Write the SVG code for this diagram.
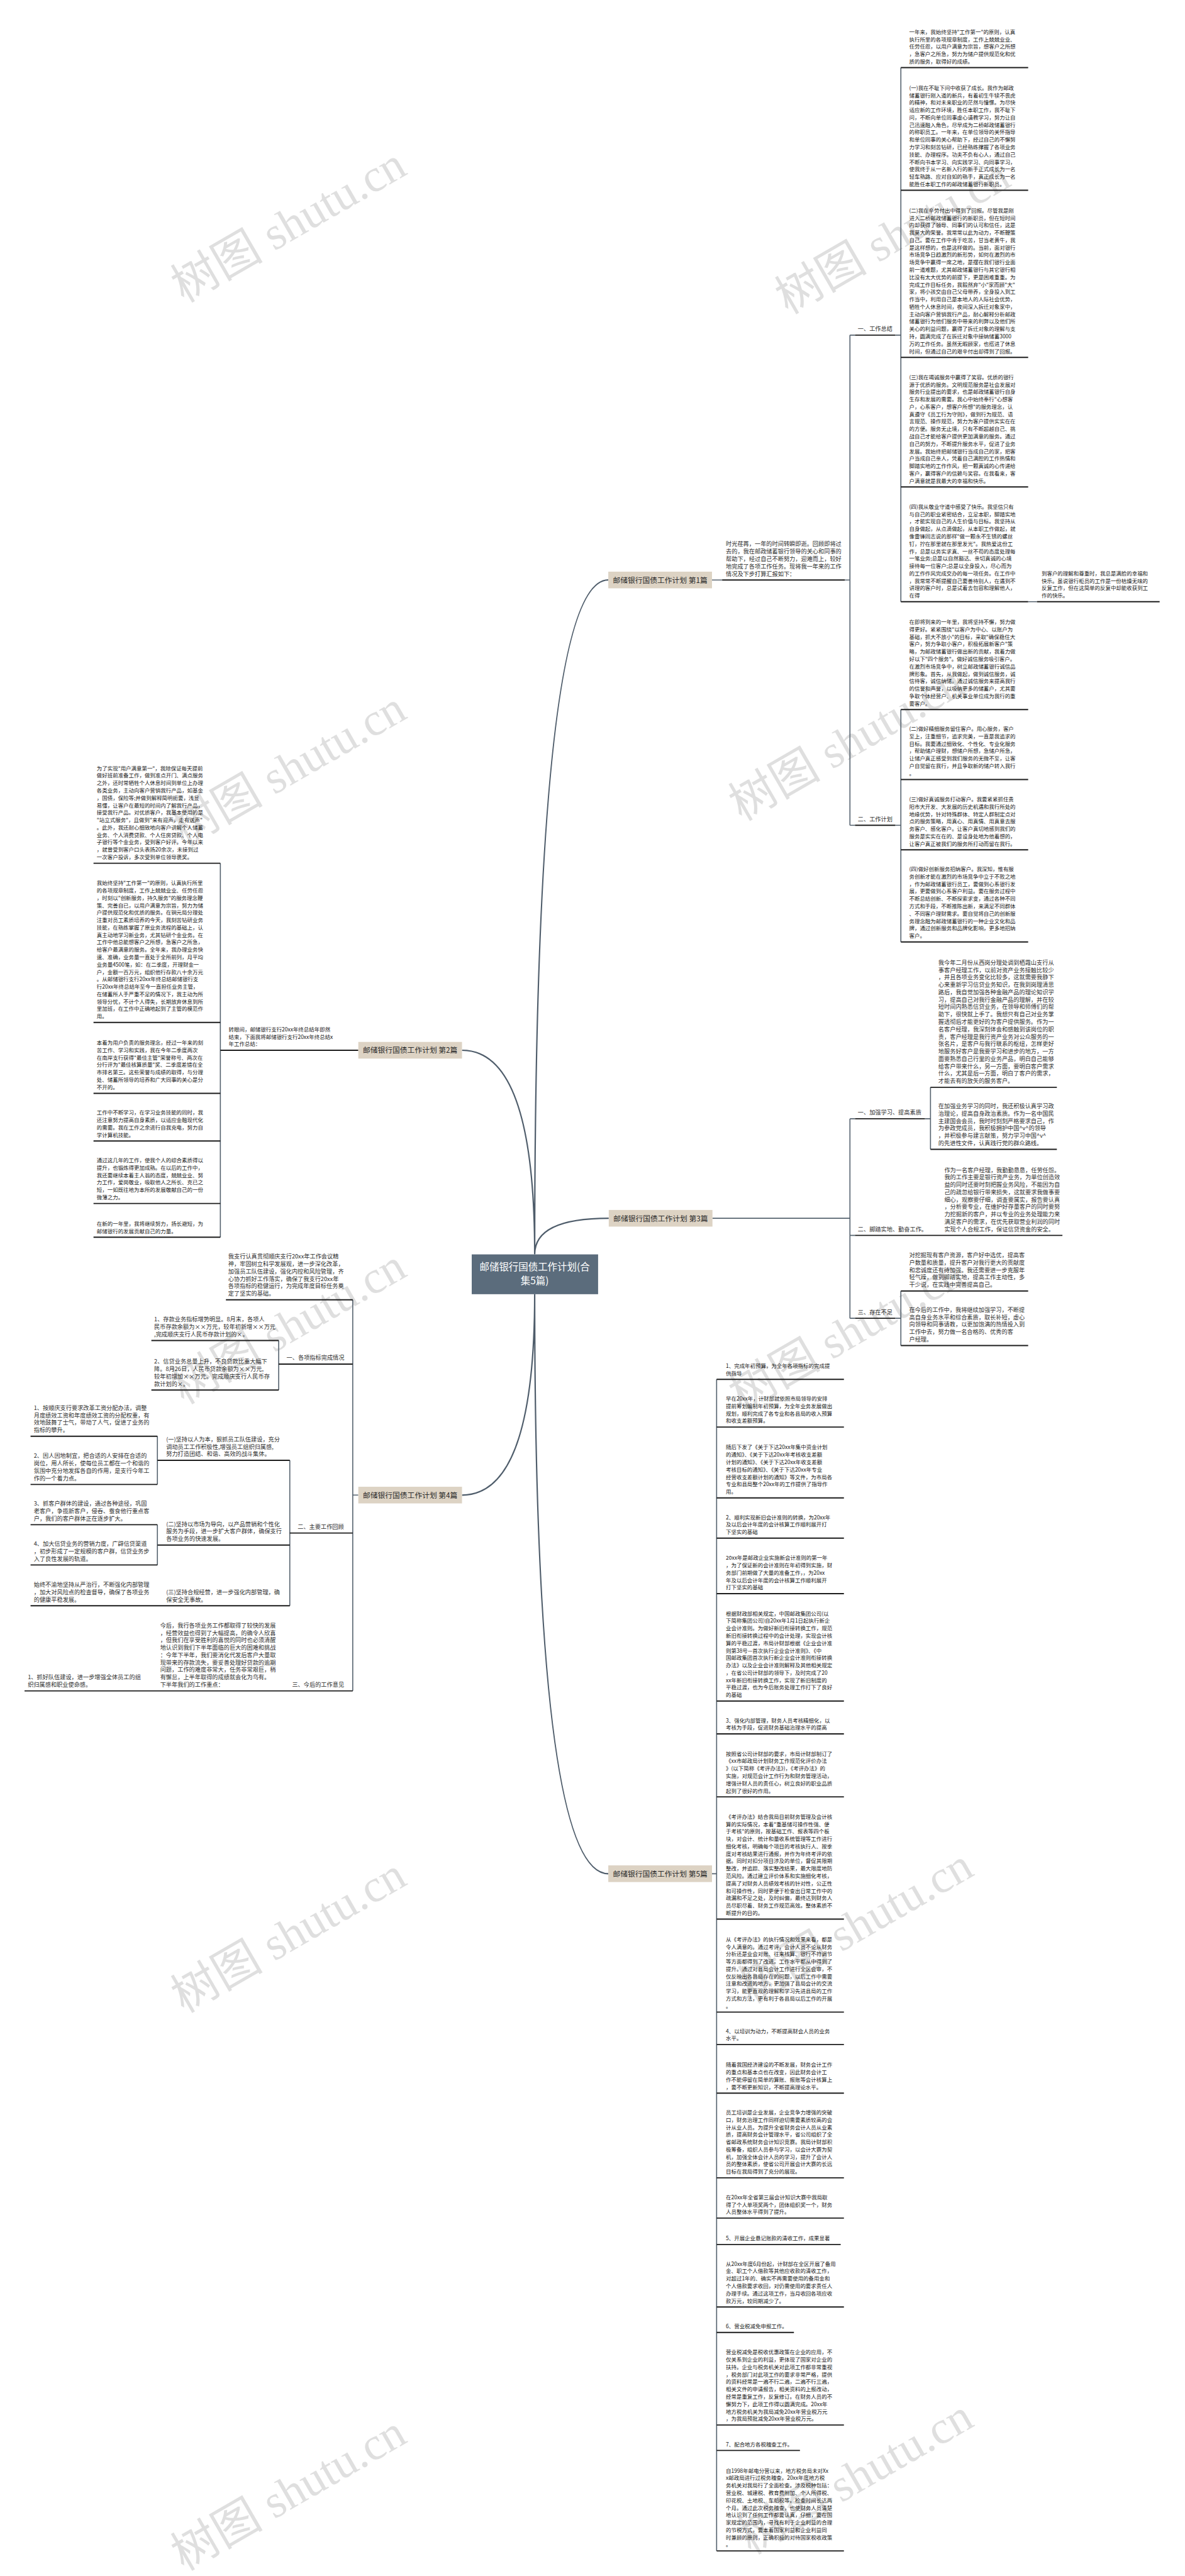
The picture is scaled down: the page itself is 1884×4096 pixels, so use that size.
<svg xmlns="http://www.w3.org/2000/svg" width="1884" height="4096" viewBox="0 0 1884 4096">
<style>
.w{font-family:"Liberation Serif","Noto Sans CJK SC",serif;font-size:100px;fill:#c9c9c9;fill-opacity:.6}
.t{font-family:"Noto Sans CJK SC","Noto Sans CJK JP",sans-serif;font-size:11.5px;fill:#151515}
.y{font-family:"Noto Sans CJK SC","Noto Sans CJK JP",sans-serif;font-size:12.5px;fill:#2e2e2e}
.ul{stroke:#1c1c1c;stroke-width:2.6;fill:none}
.cn{stroke:#56636f;stroke-width:2.2;fill:none}
.br{stroke:#4f5d6b;stroke-width:3;fill:none}
.lb rect{fill:#ddd3c4}
.lb text{font-family:"Noto Sans CJK SC",sans-serif;font-size:16px;fill:#2b2b2b}
.root rect{fill:#5b6c7c}
.root text{font-family:"Noto Sans CJK SC",sans-serif;font-size:21px;fill:#fff;text-anchor:middle}
</style>
<rect width="1884" height="4096" fill="#fff"/>
<g transform="scale(0.736)">
<g id="watermarks">
<text class="w" transform="translate(640 515) rotate(-30)" text-anchor="middle">树图 shutu.cn</text>
<text class="w" transform="translate(1945 540) rotate(-30)" text-anchor="middle">树图 shutu.cn</text>
<text class="w" transform="translate(640 1690) rotate(-30)" text-anchor="middle">树图 shutu.cn</text>
<text class="w" transform="translate(1845 1635) rotate(-30)" text-anchor="middle">树图 shutu.cn</text>
<text class="w" transform="translate(640 2895) rotate(-30)" text-anchor="middle">树图 shutu.cn</text>
<text class="w" transform="translate(1845 2910) rotate(-30)" text-anchor="middle">树图 shutu.cn</text>
<text class="w" transform="translate(640 4210) rotate(-30)" text-anchor="middle">树图 shutu.cn</text>
<text class="w" transform="translate(1865 4190) rotate(-30)" text-anchor="middle">树图 shutu.cn</text>
<text class="w" transform="translate(640 5415) rotate(-30)" text-anchor="middle">树图 shutu.cn</text>
<text class="w" transform="translate(1865 5380) rotate(-30)" text-anchor="middle">树图 shutu.cn</text>
</g>
<g id="connectors">
<path class="br" d="M1155 2710 Q1155 1253 1314 1253 M1155 2710 Q1155 2269 998 2269 M1155 2710 Q1155 2632 1315 2632 M1155 2796 Q1155 3230 998 3230 M1155 2796 Q1155 4048 1314 4048"/>
<path class="cn" d="M1538 1253 H1560 M1825 1253 H1836 M1836 724 V1783 M1836 724 H1847 M1836 1783 H1847 M1934 724 H1946 M1946 146 V1300 M1934 1783 H1946 M1946 1533 V2035 M2221 1300 H2240"/>
<path class="cn" d="M1539 2632 H1836 M1836 2417 V2848 M1836 2417 H1847 M1836 2669 H1847 M1836 2848 H1847 M1998 2417 H2010 M2010 2349 V2483 M1934 2848 H1946 M1946 2789 V2907"/>
<path class="cn" d="M476 1865 V2673 M762 2808 V3653 M774 3230 H762 M602 2896 V3003 M626 3155 V3469 M340 3103 V3207 M340 3294 V3381"/>
<path class="cn" d="M1538 4048 H1548 M1548 2980 V5511"/>
<path class="ul" d="M1560 1253 H1825 M1847 724 H1934 M1847 1783 H1934 M1946 146 H2221 M1946 411 H2221 M1946 772 H2221 M1946 1052 H2221 M1946 1300 H2221 M2240 1300 H2505 M1946 1533 H2221 M1946 1684 H2221 M1946 1836 H2221 M1946 2035 H2221"/>
<path class="ul" d="M1847 2417 H1998 M2010 2349 H2283 M2010 2483 H2283 M1847 2669 H2295 M1847 2848 H1934 M1946 2789 H2221 M1946 2907 H2221"/>
<path class="ul" d="M476 2269 H774 M202 1865 H476 M202 2209 H476 M202 2362 H476 M202 2465 H476 M202 2600 H476 M202 2673 H476"/>
<path class="ul" d="M488 2808 H762 M602 2947 H762 M327 2896 H602 M327 3003 H602 M626 3312 H762 M340 3155 H626 M66 3103 H340 M66 3207 H340 M340 3338 H626 M66 3294 H340 M66 3381 H340 M66 3469 H626 M53 3653 H762"/>
<path class="ul" d="M1548 2980 H1823 M1548 3083 H1823 M1548 3236 H1823 M1548 3323 H1823 M1548 3443 H1823 M1548 3675 H1823 M1548 3746 H1823 M1548 3882 H1823 M1548 4146 H1823 M1548 4347 H1823 M1548 4417 H1823 M1548 4522 H1823 M1548 4705 H1823 M1548 4792 H1823 M1548 4849 H1816 M1548 4984 H1823 M1548 5039 H1715 M1548 5239 H1823 M1548 5294 H1728 M1548 5511 H1823"/>
</g>
<g id="root" class="root"><rect x="1019" y="2710" width="273" height="86"/><text x="1155" y="2745">邮储银行国债工作计划(合</text><text x="1155" y="2775">集5篇)</text></g>
<g id="b1" class="lb"><rect x="1314" y="1235" width="224" height="36"/><text x="1324" y="1259">邮储银行国债工作计划 第1篇</text></g>
<g id="b2" class="lb"><rect x="774" y="2251" width="224" height="36"/><text x="784" y="2275">邮储银行国债工作计划 第2篇</text></g>
<g id="b3" class="lb"><rect x="1315" y="2614" width="224" height="36"/><text x="1325" y="2638">邮储银行国债工作计划 第3篇</text></g>
<g id="b4" class="lb"><rect x="774" y="3212" width="224" height="36"/><text x="784" y="3236">邮储银行国债工作计划 第4篇</text></g>
<g id="b5" class="lb"><rect x="1314" y="4030" width="224" height="36"/><text x="1324" y="4054">邮储银行国债工作计划 第5篇</text></g>

<g id="b1-intro"><text class="y" x="1568" y="1180"><tspan x="1568">时光荏苒，一年的时间转瞬即逝。回顾即将过</tspan><tspan x="1568" dy="16">去的，我在邮政储蓄银行领导的关心和同事的</tspan><tspan x="1568" dy="16">帮助下，经过自己不断努力，迎难而上，较好</tspan><tspan x="1568" dy="16">地完成了各项工作任务。现将我一年来的工作</tspan><tspan x="1568" dy="16">情况及下步打算汇报如下：</tspan></text></g>
<g id="b1-s1"><text class="y" x="1853" y="715">一、工作总结</text></g>
<g id="b1-s2"><text class="y" x="1853" y="1774">二、工作计划</text></g>
<g id="b1-n0"><text class="t" x="1964" y="73"><tspan x="1964">一年来，我始终坚持"工作第一"的原则，认真</tspan><tspan x="1964" dy="16">执行所里的各项规章制度，工作上兢兢业业、</tspan><tspan x="1964" dy="16">任劳任怨，以用户满意为宗旨，想客户之所想</tspan><tspan x="1964" dy="16">，急客户之所急，努力为储户提供规范化和优</tspan><tspan x="1964" dy="16">质的服务，取得好的成绩。</tspan></text></g>
<g id="b1-n1"><text class="t" x="1964" y="194"><tspan x="1964">(一)我在不耻下问中收获了成长。我作为邮政</tspan><tspan x="1964" dy="16">储蓄银行刚入道的新兵，有着初生牛犊不畏虎</tspan><tspan x="1964" dy="16">的精神，和对未来职业的茫然与憧憬。为尽快</tspan><tspan x="1964" dy="16">适应新的工作环境，胜任本职工作，我不耻下</tspan><tspan x="1964" dy="16">问，不断向单位同事虚心请教学习，努力让自</tspan><tspan x="1964" dy="16">己迅速融入角色，尽早成为二桥邮政储蓄银行</tspan><tspan x="1964" dy="16">的称职员工。一年来，在单位领导的关怀指导</tspan><tspan x="1964" dy="16">和单位同事的关心帮助下，经过自己的不懈努</tspan><tspan x="1964" dy="16">力学习和刻苦钻研，已经熟练撑握了各项业务</tspan><tspan x="1964" dy="16">技能、办理程序。功夫不负有心人，通过自己</tspan><tspan x="1964" dy="16">不断向书本学习、向实践学习、向同事学习，</tspan><tspan x="1964" dy="16">使我终于从一名新入行的新手正式成长为一名</tspan><tspan x="1964" dy="16">轻车熟路、应对自如的熟手，真正成长为一名</tspan><tspan x="1964" dy="16">能胜任本职工作的邮政储蓄银行新职员。</tspan></text></g>
<g id="b1-n2"><text class="t" x="1964" y="459"><tspan x="1964">(二)我在辛劳付出中得到了回报。尽管我是刚</tspan><tspan x="1964" dy="16">进入二桥邮政储蓄银行的新职员，但在短时间</tspan><tspan x="1964" dy="16">内却获得了领导、同事们的认可和信任，这是</tspan><tspan x="1964" dy="16">我莫大的荣誉。我常常以此为动力，不断鞭策</tspan><tspan x="1964" dy="16">自己。要在工作中肯于吃苦，甘当老黄牛，我</tspan><tspan x="1964" dy="16">是这样想的，也是这样做的。当前，面对银行</tspan><tspan x="1964" dy="16">市场竞争日趋激烈的新形势，如何在激烈的市</tspan><tspan x="1964" dy="16">场竞争中赢得一席之地，是摆在我们银行业面</tspan><tspan x="1964" dy="16">前一道难题，尤其邮政储蓄银行与其它银行相</tspan><tspan x="1964" dy="16">比没有太大优势的前提下，更是困难重重。为</tspan><tspan x="1964" dy="16">完成工作目标任务，我毅然弃"小"家而顾"大"</tspan><tspan x="1964" dy="16">家，将小孩交由自己父母带养，全身投入到工</tspan><tspan x="1964" dy="16">作当中，利用自己是本地人的人际社会优势，</tspan><tspan x="1964" dy="16">牺牲个人休息时间，夜间深入拆迁对象家中，</tspan><tspan x="1964" dy="16">主动向客户营销我行产品，耐心解释分析邮政</tspan><tspan x="1964" dy="16">储蓄银行为他们服务中带来的利弊以及他们所</tspan><tspan x="1964" dy="16">关心的利益问题，赢得了拆迁对象的理解与支</tspan><tspan x="1964" dy="16">持，圆满完成了在拆迁对象中接纳储蓄3000</tspan><tspan x="1964" dy="16">万的工作任务。虽然无暇顾家，也搭进了休息</tspan><tspan x="1964" dy="16">时间，但通过自己的艰辛付出却得到了回报。</tspan></text></g>
<g id="b1-n3"><text class="t" x="1964" y="819"><tspan x="1964">(三)我在竭诚服务中赢得了笑容。优质的银行</tspan><tspan x="1964" dy="16">源于优质的服务。文明规范服务是社会发展对</tspan><tspan x="1964" dy="16">服务行业提出的要求，也是邮政储蓄银行自身</tspan><tspan x="1964" dy="16">生存和发展的需要。我心中始终奉行"心想客</tspan><tspan x="1964" dy="16">户，心系客户，想客户所想"的服务理念，认</tspan><tspan x="1964" dy="16">真遵守《员工行为守则》，做到行为规范、语</tspan><tspan x="1964" dy="16">言规范、操作规范，努力为客户提供实实在在</tspan><tspan x="1964" dy="16">的方便。服务无止境，只有不断超越自己、挑</tspan><tspan x="1964" dy="16">战自己才能给客户提供更加满意的服务。通过</tspan><tspan x="1964" dy="16">自己的努力，不断提升服务水平，促进了业务</tspan><tspan x="1964" dy="16">发展。我始终把邮储银行当成自己的家，把客</tspan><tspan x="1964" dy="16">户当成自己亲人，凭着自己满腔的工作热情和</tspan><tspan x="1964" dy="16">脚踏实地的工作作风，把一颗真诚的心传递给</tspan><tspan x="1964" dy="16">客户，赢得客户的信赖与笑容。在我看来，客</tspan><tspan x="1964" dy="16">户满意就是我最大的幸福和快乐。</tspan></text></g>
<g id="b1-n4"><text class="t" x="1964" y="1099"><tspan x="1964">(四)我从敬业守道中感受了快乐。我坚信只有</tspan><tspan x="1964" dy="16">与自己的职业紧密结合，立足本职，脚踏实地</tspan><tspan x="1964" dy="16">，才能实现自己的人生价值与目标。我坚持从</tspan><tspan x="1964" dy="16">自身做起，从点滴做起，从本职工作做起，就</tspan><tspan x="1964" dy="16">像雷锋同志说的那样"做一颗永不生锈的螺丝</tspan><tspan x="1964" dy="16">钉，拧在那里就在那里发光"。我热爱这份工</tspan><tspan x="1964" dy="16">作，总是以务实求真、一丝不苟的态度处理每</tspan><tspan x="1964" dy="16">一笔业务;总是以自然豁达、亲切真诚的心境</tspan><tspan x="1964" dy="16">接待每一位客户;总是以全身投入，尽心而为</tspan><tspan x="1964" dy="16">的工作作风完成交办的每一项任务。在工作中</tspan><tspan x="1964" dy="16">，我常常不断提醒自己要善待别人，在遇到不</tspan><tspan x="1964" dy="16">讲理的客户时，总是试着去包容和理解他人，</tspan><tspan x="1964" dy="16">在得</tspan></text></g>
<g id="b1-n4a"><text class="t" x="2250" y="1243"><tspan x="2250">到客户的理解和尊重时，我总是满脸的幸福和</tspan><tspan x="2250" dy="16">快乐。虽说银行柜员的工作是一份枯燥无味的</tspan><tspan x="2250" dy="16">反复工作，但在这简单的反复中却能收获到工</tspan><tspan x="2250" dy="16">作的快乐。</tspan></text></g>
<g id="b1-n5"><text class="t" x="1964" y="1348"><tspan x="1964">在即将到来的一年里，我将坚持不懈，努力做</tspan><tspan x="1964" dy="16">得更好。紧紧围绕"以客户为中心、以账户为</tspan><tspan x="1964" dy="16">基础，抓大不放小"的目标，采取"确保稳住大</tspan><tspan x="1964" dy="16">客户，努力争取小客户，积极拓展新客户"策</tspan><tspan x="1964" dy="16">略，为邮政储蓄银行做出新的贡献，我着力做</tspan><tspan x="1964" dy="16">好以下"四个服务"。做好诚信服务吸引客户。</tspan><tspan x="1964" dy="16">在激烈市场竞争中，树立邮政储蓄银行诚信品</tspan><tspan x="1964" dy="16">牌形象。首先，从我做起，做到诚信服务，诚</tspan><tspan x="1964" dy="16">信待客，诚信纳储。通过诚信服务来提高我行</tspan><tspan x="1964" dy="16">的信誉和声誉，以吸纳更多的储蓄户，尤其要</tspan><tspan x="1964" dy="16">争取个体经营户、机关事业单位成为我行的重</tspan><tspan x="1964" dy="16">要客户。</tspan></text></g>
<g id="b1-n6"><text class="t" x="1964" y="1579"><tspan x="1964">(二)做好精细服务留住客户。用心服务，客户</tspan><tspan x="1964" dy="16">至上，注重细节，追求完美，一直是我追求的</tspan><tspan x="1964" dy="16">目标。我要通过细致化、个性化、专业化服务</tspan><tspan x="1964" dy="16">，帮助储户理财，想储户所想，急储户所急，</tspan><tspan x="1964" dy="16">让储户真正感受到我们服务的无微不至，让客</tspan><tspan x="1964" dy="16">户自觉留在我行，并且争取新的储户转入我行</tspan><tspan x="1964" dy="16">。</tspan></text></g>
<g id="b1-n7"><text class="t" x="1964" y="1731"><tspan x="1964">(三)做好真诚服务打动客户。我要紧紧抓住贵</tspan><tspan x="1964" dy="16">阳市大开发、大发展的历史机遇和我行所处的</tspan><tspan x="1964" dy="16">地缘优势，针对特殊群体、特定人群制定点对</tspan><tspan x="1964" dy="16">点的服务策略，用真心、用真情、用真意去服</tspan><tspan x="1964" dy="16">务客户、感化客户。让客户真切地感到我们的</tspan><tspan x="1964" dy="16">服务是实实在在的、是设身处地为他着想的，</tspan><tspan x="1964" dy="16">让客户真正被我们的服务所打动而留在我行。</tspan></text></g>
<g id="b1-n8"><text class="t" x="1964" y="1882"><tspan x="1964">(四)做好创新服务招纳客户。我深知，惟有服</tspan><tspan x="1964" dy="16">务创新才能在激烈的市场竞争中立于不败之地</tspan><tspan x="1964" dy="16">，作为邮政储蓄银行员工，要做到心系银行发</tspan><tspan x="1964" dy="16">展，更要做到心系客户利益。要在服务过程中</tspan><tspan x="1964" dy="16">不断总结创新、不断探索求变，通过各种不同</tspan><tspan x="1964" dy="16">方式和手段，不断推陈出新，来满足不同群体</tspan><tspan x="1964" dy="16">、不同客户理财需求。要自觉将自己的创新服</tspan><tspan x="1964" dy="16">务理念融为邮政储蓄银行的一种企业文化和品</tspan><tspan x="1964" dy="16">牌，通过创新服务和品牌化影响，更多地招纳</tspan><tspan x="1964" dy="16">客户。</tspan></text></g>

<g id="b3-s1"><text class="y" x="1853" y="2408">一、加强学习、提高素质</text></g>
<g id="b3-s2"><text class="y" x="1853" y="2660">二、脚踏实地、勤奋工作。</text></g>
<g id="b3-s3"><text class="y" x="1853" y="2839">三、存在不足</text></g>
<g id="b3-n1"><text class="y" x="2027" y="2084"><tspan x="2027">我今年二月份从西岗分理处调到栖霞山支行从</tspan><tspan x="2027" dy="16">事客户经理工作，以前对资产业务接触比较少</tspan><tspan x="2027" dy="16">，并且各项业务变化比较多，这就需要我静下</tspan><tspan x="2027" dy="16">心来重新学习信贷业务知识，在我到岗理清思</tspan><tspan x="2027" dy="16">路后，我自觉加强各种金融产品的理论知识学</tspan><tspan x="2027" dy="16">习，提高自己对我行金融产品的理解，并在较</tspan><tspan x="2027" dy="16">短时间内熟悉信贷业务，在领导和师傅们的帮</tspan><tspan x="2027" dy="16">助下，很快就上手了。我想只有自己对业务掌</tspan><tspan x="2027" dy="16">握透彻后才能更好的为客户提供服务。作为一</tspan><tspan x="2027" dy="16">名客户经理，我深刻体会和感触到该岗位的职</tspan><tspan x="2027" dy="16">责，客户经理是我行资产业务对公众服务的一</tspan><tspan x="2027" dy="16">张名片，是客户与我行联系的枢纽，怎样更好</tspan><tspan x="2027" dy="16">地服务好客户是我要学习和进步的地方，一方</tspan><tspan x="2027" dy="16">面要熟悉自己行里的业务产品，明白自己能够</tspan><tspan x="2027" dy="16">给客户带来什么，另一方面，要明白客户需求</tspan><tspan x="2027" dy="16">什么，尤其是后一方面，明白了客户的需求，</tspan><tspan x="2027" dy="16">才能去有的放矢的服务客户。</tspan></text></g>
<g id="b3-n2"><text class="y" x="2027" y="2394"><tspan x="2027">在加强业务学习的同时，我还积极认真学习政</tspan><tspan x="2027" dy="16">治理论，提高自身政治素质。作为一名中国民</tspan><tspan x="2027" dy="16">主建国会会员，我时时刻刻严格要求自己，作</tspan><tspan x="2027" dy="16">为参政党成员，我积极拥护中国^v^的领导</tspan><tspan x="2027" dy="16">，并积极参与建言献策，努力学习中国^v^</tspan><tspan x="2027" dy="16">的先进性文件，认真践行党的群众路线。</tspan></text></g>
<g id="b3-n3"><text class="y" x="2040" y="2532"><tspan x="2040">作为一名客户经理，我勤勤恳恳，任劳任怨。</tspan><tspan x="2040" dy="16">我的工作主要是银行资产业务，为单位创造效</tspan><tspan x="2040" dy="16">益的同时还要时刻把握业务风险，不能因为自</tspan><tspan x="2040" dy="16">己的疏忽给银行带来损失，这就要求我做事要</tspan><tspan x="2040" dy="16">细心，观察要仔细，调查要属实，报告要认真</tspan><tspan x="2040" dy="16">，分析要专业，在维护好存量客户的同时要努</tspan><tspan x="2040" dy="16">力挖掘新的客户，并以专业的业务处理能力来</tspan><tspan x="2040" dy="16">满足客户的需求，在优先获取营业利润的同时</tspan><tspan x="2040" dy="16">实现个人合规工作，保证信贷资金的安全。</tspan></text></g>
<g id="b3-n4"><text class="y" x="1964" y="2716"><tspan x="1964">对挖掘现有客户资源，客户好中选优，提高客</tspan><tspan x="1964" dy="16">户数量和质量，提升客户对我行更大的贡献度</tspan><tspan x="1964" dy="16">和忠诚度还有待加强。我还需要进一步克服年</tspan><tspan x="1964" dy="16">轻气躁，做到脚踏实地，提高工作主动性，多</tspan><tspan x="1964" dy="16">干少说，在实践中完善提高自己。</tspan></text></g>
<g id="b3-n5"><text class="y" x="1964" y="2834"><tspan x="1964">在今后的工作中，我将继续加强学习，不断提</tspan><tspan x="1964" dy="16">高自身业务水平和综合素质，取长补短，虚心</tspan><tspan x="1964" dy="16">向领导和同事请教，以更加饱满的热情投入到</tspan><tspan x="1964" dy="16">工作中去，努力做一名合格的、优秀的客</tspan><tspan x="1964" dy="16">户经理。</tspan></text></g>

<g id="b2-intro"><text class="t" x="494" y="2228"><tspan x="494">转眼间，邮储银行支行20xx年终总结年即然</tspan><tspan x="494" dy="16">结束，下面我将邮储银行支行20xx年终总结x</tspan><tspan x="494" dy="16">年工作总结：</tspan></text></g>
<g id="b2-n1"><text class="t" x="209" y="1664"><tspan x="209">为了实现"用户满意第一"，我除保证每天提前</tspan><tspan x="209" dy="16">做好班前准备工作，做到准点开门、满点服务</tspan><tspan x="209" dy="16">之外，还时常牺牲个人休息时间到单位上办理</tspan><tspan x="209" dy="16">各类业务，主动向客户营销我行产品，如基金</tspan><tspan x="209" dy="16">，国债，保险等;并做到解释简明扼要，浅显</tspan><tspan x="209" dy="16">易懂，让客户在最短的时间内了解我行产品，</tspan><tspan x="209" dy="16">接受我行产品。对优质客户，我基本使用的是</tspan><tspan x="209" dy="16">"站立式服务"，且做到"来有迎声，走有送声"</tspan><tspan x="209" dy="16">。此外，我还耐心细致地向客户讲解个人储蓄</tspan><tspan x="209" dy="16">业务、个人消费贷款、个人住房贷款、个人电</tspan><tspan x="209" dy="16">子银行等个金业务，受到客户好评。今年以来</tspan><tspan x="209" dy="16">，就曾受到客户口头表扬20余次，未接到过</tspan><tspan x="209" dy="16">一次客户投诉，多次受到单位领导褒奖。</tspan></text></g>
<g id="b2-n2"><text class="t" x="209" y="1912"><tspan x="209">我始终坚持"工作第一"的原则，认真执行所里</tspan><tspan x="209" dy="16">的各项规章制度，工作上兢兢业业、任劳任怨</tspan><tspan x="209" dy="16">，时刻以"创新服务，持久服务"的服务理念鞭</tspan><tspan x="209" dy="16">策、完善自已，以用户满意为宗旨，努力为储</tspan><tspan x="209" dy="16">户提供规范化和优质的服务。在铜元局分理处</tspan><tspan x="209" dy="16">注重对员工素质培养的今天，我刻苦钻研业务</tspan><tspan x="209" dy="16">技能，在熟练掌握了原业务流程的基础上，认</tspan><tspan x="209" dy="16">真主动地学习新业务，尤其钻研个金业务。在</tspan><tspan x="209" dy="16">工作中他总能想客户之所想，急客户之所急，</tspan><tspan x="209" dy="16">给客户最满意的服务。全年来，我办理业务快</tspan><tspan x="209" dy="16">速、准确，业务量一直处于全所前列，月平均</tspan><tspan x="209" dy="16">业务量4500笔，如：在二季度，开理财金一</tspan><tspan x="209" dy="16">户，金额一百万元，组织他行存款八十余万元</tspan><tspan x="209" dy="16">。从邮储银行支行20xx年终总结邮储银行支</tspan><tspan x="209" dy="16">行20xx年终总结年至今一直担任业务主管，</tspan><tspan x="209" dy="16">在储蓄所人手严重不足的情况下，我主动为所</tspan><tspan x="209" dy="16">领导分忧，不计个人得失，长期放弃休息到所</tspan><tspan x="209" dy="16">里加班，在工作中正确地起到了主管的模范作</tspan><tspan x="209" dy="16">用。</tspan></text></g>
<g id="b2-n3"><text class="t" x="209" y="2257"><tspan x="209">本着为用户负责的服务理念，经过一年来的刻</tspan><tspan x="209" dy="16">苦工作、学习和实践，我在今年二季度两次</tspan><tspan x="209" dy="16">在南岸支行获得"最佳主管"荣誉称号、两次在</tspan><tspan x="209" dy="16">分行评为"最佳核算质量"奖、二季度差错在全</tspan><tspan x="209" dy="16">市排名第三。这些荣誉与成绩的取得，与分理</tspan><tspan x="209" dy="16">处、储蓄所领导的培养和广大同事的关心是分</tspan><tspan x="209" dy="16">不开的。</tspan></text></g>
<g id="b2-n4"><text class="t" x="209" y="2408"><tspan x="209">工作中不断学习，在学习业务技能的同时，我</tspan><tspan x="209" dy="16">还注意努力提高自身素质，以适应金融现代化</tspan><tspan x="209" dy="16">的需要。我在工作之余进行自我充电，努力自</tspan><tspan x="209" dy="16">学计算机技能。</tspan></text></g>
<g id="b2-n5"><text class="t" x="209" y="2511"><tspan x="209">通过这几年的工作，使我个人的综合素质得以</tspan><tspan x="209" dy="16">提升，也锻炼得更加成熟。在以后的工作中，</tspan><tspan x="209" dy="16">我还要继续本着主人翁的态度，兢兢业业、努</tspan><tspan x="209" dy="16">力工作，爱岗敬业，吸取他人之所长、克已之</tspan><tspan x="209" dy="16">短，一如既往地为本所的发展敬献自己的一份</tspan><tspan x="209" dy="16">微薄之力。</tspan></text></g>
<g id="b2-n6"><text class="t" x="209" y="2648"><tspan x="209">在新的一年里，我将继续努力，扬长避短，为</tspan><tspan x="209" dy="16">邮储银行的发展贡献自己的力量。</tspan></text></g>

<g id="b4-intro"><text class="y" x="493" y="2719"><tspan x="493">我支行认真贯彻顺庆支行20xx年工作会议精</tspan><tspan x="493" dy="16">神，牢固树立科学发展观，进一步深化改革，</tspan><tspan x="493" dy="16">加强员工队伍建设，强化内控和风险管理，齐</tspan><tspan x="493" dy="16">心协力抓好工作落实，确保了我支行20xx年</tspan><tspan x="493" dy="16">各项指标的稳健运行，为完成年度目标任务奠</tspan><tspan x="493" dy="16">定了坚实的基础。</tspan></text></g>
<g id="b4-s1"><text class="y" x="619" y="2938">一、各项指标完成情况</text></g>
<g id="b4-s2"><text class="y" x="643" y="3303">二、主要工作回顾</text></g>
<g id="b4-s3"><text class="y" x="631" y="3644">三、今后的工作意见</text></g>
<g id="b4-n1"><text class="y" x="333" y="2855"><tspan x="333">1、存款业务指标增势明显。8月末，各项人</tspan><tspan x="333" dy="16">民币存款余额为××万元，较年初新增××万元</tspan><tspan x="333" dy="16">,完成顺庆支行人民币存款计划的×。</tspan></text></g>
<g id="b4-n2"><text class="y" x="333" y="2946"><tspan x="333">2、信贷业务总量上升，不良贷款比重大幅下</tspan><tspan x="333" dy="16">降。8月26日，人民币贷款余额为××万元,</tspan><tspan x="333" dy="16">较年初增加××万元。完成顺庆支行人民币存</tspan><tspan x="333" dy="16">款计划的×。</tspan></text></g>
<g id="b4-n3"><text class="y" x="359" y="3114"><tspan x="359">(一)坚持以人为本，狠抓员工队伍建设，充分</tspan><tspan x="359" dy="16">调动员工工作积极性,增强员工组织归属感,</tspan><tspan x="359" dy="16">努力打造团结、和谐、高效的战斗集体。</tspan></text></g>
<g id="b4-n4"><text class="y" x="73" y="3046"><tspan x="73">1、按顺庆支行要求改革工资分配办法，调整</tspan><tspan x="73" dy="16">月度绩效工资和年度绩效工资的分配权重，有</tspan><tspan x="73" dy="16">效地鼓舞了士气，带动了人气，促进了业务的</tspan><tspan x="73" dy="16">指标的攀升。</tspan></text></g>
<g id="b4-n5"><text class="y" x="73" y="3150"><tspan x="73">2、因人因地制宜，把合适的人安排在合适的</tspan><tspan x="73" dy="16">岗位，用人所长，使每位员工都在一个和谐的</tspan><tspan x="73" dy="16">氛围中充分地发挥各自的作用，是支行今年工</tspan><tspan x="73" dy="16">作的一个着力点。</tspan></text></g>
<g id="b4-n6"><text class="y" x="359" y="3297"><tspan x="359">(二)坚持以市场为导向，以产品营销和个性化</tspan><tspan x="359" dy="16">服务为手段，进一步扩大客户群体，确保支行</tspan><tspan x="359" dy="16">各项业务的快速发展。</tspan></text></g>
<g id="b4-n7"><text class="y" x="73" y="3253"><tspan x="73">3、抓客户群体的建设，通过各种途径，巩固</tspan><tspan x="73" dy="16">老客户，争揽新客户，侵吞、蚕食他行重点客</tspan><tspan x="73" dy="16">户，我们的客户群体正在逐步扩大。</tspan></text></g>
<g id="b4-n8"><text class="y" x="73" y="3340"><tspan x="73">4、加大信贷业务的营销力度，广辟信贷渠道</tspan><tspan x="73" dy="16">，初步形成了一定规模的客户群，信贷业务步</tspan><tspan x="73" dy="16">入了良性发展的轨道。</tspan></text></g>
<g id="b4-n9"><text class="y" x="359" y="3444"><tspan x="359">(三)坚持合规经营，进一步强化内部管理，确</tspan><tspan x="359" dy="16">保安全无事故。</tspan></text></g>
<g id="b4-n10"><text class="y" x="73" y="3428"><tspan x="73">始终不渝地坚持从严治行，不断强化内部管理</tspan><tspan x="73" dy="16">，加大对风险点的检查督导，确保了各项业务</tspan><tspan x="73" dy="16">的健康平稳发展。</tspan></text></g>
<g id="b4-n11"><text class="y" x="346" y="3516"><tspan x="346">今后，我行各项业务工作都取得了较快的发展</tspan><tspan x="346" dy="16">，经营效益也得到了大幅提高，的确令人欣喜</tspan><tspan x="346" dy="16">，但我们在享受胜利的喜悦的同时也必须清醒</tspan><tspan x="346" dy="16">地认识到我们下半年面临的巨大的困难和挑战</tspan><tspan x="346" dy="16">：今年下半年，我们要消化代发后客户大量取</tspan><tspan x="346" dy="16">现带来的存款流失，要妥善处理好贷款的逾期</tspan><tspan x="346" dy="16">问题，工作的难度非常大，任务非常艰巨，稍</tspan><tspan x="346" dy="16">有懈怠，上半年取得的成绩就会化为乌有。</tspan><tspan x="346" dy="16">下半年我们的工作重点：</tspan></text></g>
<g id="b4-n12"><text class="y" x="60" y="3628"><tspan x="60">1、抓好队伍建设，进一步增强全体员工的组</tspan><tspan x="60" dy="16">织归属感和职业使命感。</tspan></text></g>

<g id="b5-n1"><text class="t" x="1568" y="2955"><tspan x="1568">1、完成年初预算，为全年各项指标的完成提</tspan><tspan x="1568" dy="16">供指导</tspan></text></g>
<g id="b5-n2"><text class="t" x="1568" y="3026"><tspan x="1568">早在20xx年，计财部就依照市局领导的安排</tspan><tspan x="1568" dy="16">提前筹划编制年初预算，为全年业务发展做出</tspan><tspan x="1568" dy="16">规划，顺利完成了各专业和各县局的收入预算</tspan><tspan x="1568" dy="16">和收支差额预算。</tspan></text></g>
<g id="b5-n3"><text class="t" x="1568" y="3131"><tspan x="1568">随后下发了《关于下达20xx年集中资金计划</tspan><tspan x="1568" dy="16">的通知》、《关于下达20xx年考核收支差额</tspan><tspan x="1568" dy="16">计划的通知》、《关于下达20xx年收支差额</tspan><tspan x="1568" dy="16">考核目标的通知》、《关于下达20xx年专业</tspan><tspan x="1568" dy="16">经营收支差额计划的通知》等文件，为市局各</tspan><tspan x="1568" dy="16">专业和县局整个20xx年的工作提供了指导作</tspan><tspan x="1568" dy="16">用。</tspan></text></g>
<g id="b5-n4"><text class="t" x="1568" y="3282"><tspan x="1568">2、顺利实现新旧会计准则的转换，为20xx年</tspan><tspan x="1568" dy="16">及以后会计年度的会计核算工作顺利展开打</tspan><tspan x="1568" dy="16">下坚实的基础</tspan></text></g>
<g id="b5-n5"><text class="t" x="1568" y="3370"><tspan x="1568">20xx年是邮政企业实施新会计准则的第一年</tspan><tspan x="1568" dy="16">，为了保证新的会计准则在年初得到实施，财</tspan><tspan x="1568" dy="16">务部门前期做了大量的准备工作，，为20xx</tspan><tspan x="1568" dy="16">年及以后会计年度的会计核算工作顺利展开</tspan><tspan x="1568" dy="16">打下坚实的基础</tspan></text></g>
<g id="b5-n6"><text class="t" x="1568" y="3490"><tspan x="1568">根据财政部相关规定，中国邮政集团公司(以</tspan><tspan x="1568" dy="16">下简称集团公司)自20xx年1月1日起执行新企</tspan><tspan x="1568" dy="16">业会计准则。为做好新旧衔接转换工作，规范</tspan><tspan x="1568" dy="16">新旧衔接转换过程中的会计处理，实现会计核</tspan><tspan x="1568" dy="16">算的平稳过渡，市局计财部根据《企业会计准</tspan><tspan x="1568" dy="16">则第38号—首次执行企业会计准则》、《中</tspan><tspan x="1568" dy="16">国邮政集团首次执行新企业会计准则衔接转换</tspan><tspan x="1568" dy="16">办法》以及企业会计准则解释及其他相关规定</tspan><tspan x="1568" dy="16">，在省公司计财部的领导下，及时完成了20</tspan><tspan x="1568" dy="16">xx年新旧衔接转换工作，实现了新旧制度的</tspan><tspan x="1568" dy="16">平稳过渡，也为今后账务处理工作打下了良好</tspan><tspan x="1568" dy="16">的基础</tspan></text></g>
<g id="b5-n7"><text class="t" x="1568" y="3721"><tspan x="1568">3、强化内部管理，财务人员考核精细化，以</tspan><tspan x="1568" dy="16">考核为手段，促进财务基础治理水平的提高</tspan></text></g>
<g id="b5-n8"><text class="t" x="1568" y="3793"><tspan x="1568">按照省公司计财部的要求，市局计财部制订了</tspan><tspan x="1568" dy="16">《xx市邮政局计划财务工作规范化评价办法</tspan><tspan x="1568" dy="16">》(以下简称《考评办法》)，《考评办法》的</tspan><tspan x="1568" dy="16">实施，对规范会计工作行为和财务管理活动，</tspan><tspan x="1568" dy="16">增强计财人员的责任心，树立良好的职业品质</tspan><tspan x="1568" dy="16">起到了很好的作用。</tspan></text></g>
<g id="b5-n9"><text class="t" x="1568" y="3929"><tspan x="1568">《考评办法》结合我局目前财务管理及会计核</tspan><tspan x="1568" dy="16">算的实际情况，本着"重基储可操作性强、便</tspan><tspan x="1568" dy="16">于考核"的原则，按基础工作、报表等四个板</tspan><tspan x="1568" dy="16">块，对会计、统计和量收系统管理等工作进行</tspan><tspan x="1568" dy="16">细化考核，明确每个项目的考核执行人、按季</tspan><tspan x="1568" dy="16">度对考核结果进行通报，并作为年终考评的依</tspan><tspan x="1568" dy="16">据。同时对扣分项目涉及的单位，督促其限期</tspan><tspan x="1568" dy="16">整改，并追踪、落实整改结果，最大限度地防</tspan><tspan x="1568" dy="16">范风险。通过建立评价体系和实施细化考核，</tspan><tspan x="1568" dy="16">提高了对财务人员绩效考核的针对性，公正性</tspan><tspan x="1568" dy="16">和可操作性，同时更便于检查出日常工作中的</tspan><tspan x="1568" dy="16">疏漏和不足之处，及时纠偏，最终达到财务人</tspan><tspan x="1568" dy="16">员尽职尽着、财务工作规范高效。整体素质不</tspan><tspan x="1568" dy="16">断提升的目的。</tspan></text></g>
<g id="b5-n10"><text class="t" x="1568" y="4194"><tspan x="1568">从《考评办法》的执行情况和效果来看，都是</tspan><tspan x="1568" dy="16">令人满意的。通过考评，会计人员不论从财务</tspan><tspan x="1568" dy="16">分析还是业会对账、往来核算、银行不符调节</tspan><tspan x="1568" dy="16">等方面都得到了改进。工作水平都从中得到了</tspan><tspan x="1568" dy="16">提升。通过对县局会计工作进行全区会审，不</tspan><tspan x="1568" dy="16">仅反映出各县局存在的问题，以后工作中需要</tspan><tspan x="1568" dy="16">注意和改进的地方，更加强了县局会计的交流</tspan><tspan x="1568" dy="16">学习，能更直观的理解和学习先进县局的工作</tspan><tspan x="1568" dy="16">方式和方法，更有利于各县局以后工作的开展</tspan><tspan x="1568" dy="16">。</tspan></text></g>
<g id="b5-n11"><text class="t" x="1568" y="4392"><tspan x="1568">4、以培训为动力，不断提高财会人员的业务</tspan><tspan x="1568" dy="16">水平。</tspan></text></g>
<g id="b5-n12"><text class="t" x="1568" y="4465"><tspan x="1568">随着我国经济建设的不断发展，财务会计工作</tspan><tspan x="1568" dy="16">的重点和基本点也在改变，因此财务会计工</tspan><tspan x="1568" dy="16">作不能停留在简单的算账、报账等会计核算上</tspan><tspan x="1568" dy="16">，要不断更新知识，不断提高理论水平。</tspan></text></g>
<g id="b5-n13"><text class="t" x="1568" y="4568"><tspan x="1568">员工培训是企业发展，企业竞争力增强的突破</tspan><tspan x="1568" dy="16">口，财务治理工作同样迫切需要素质较高的会</tspan><tspan x="1568" dy="16">计从业人员。为提升全省财务会计人员从业素</tspan><tspan x="1568" dy="16">质，提高财务会计管理水平，省公司组织了全</tspan><tspan x="1568" dy="16">省邮政系统财务会计知识竞赛。我局计财部积</tspan><tspan x="1568" dy="16">极筹备，组织人员参与学习，以会计大赛为契</tspan><tspan x="1568" dy="16">机，加强全体会计人员的学习，提升了会计人</tspan><tspan x="1568" dy="16">员的整体素质，使省公司开展会计大赛的长远</tspan><tspan x="1568" dy="16">目标在我局得到了充分的展现。</tspan></text></g>
<g id="b5-n14"><text class="t" x="1568" y="4751"><tspan x="1568">在20xx年全省第三届会计知识大赛中我局取</tspan><tspan x="1568" dy="16">得了个人单项奖两个，团体组织奖一个，财务</tspan><tspan x="1568" dy="16">人员整体水平得到了提升。</tspan></text></g>
<g id="b5-n15"><text class="t" x="1568" y="4840">5、开展企业悬记账款的清收工作，成果显著</text></g>
<g id="b5-n16"><text class="t" x="1568" y="4895"><tspan x="1568">从20xx年度6月份起，计财部在全区开展了备用</tspan><tspan x="1568" dy="16">金、职工个人借款等其他应收款的清收工作，</tspan><tspan x="1568" dy="16">对超过1年的、确实不再需要使用的备用金和</tspan><tspan x="1568" dy="16">个人借款要求收回，对仍需使用的要求责任人</tspan><tspan x="1568" dy="16">办理手续。通过这项工作，当月收回各项应收</tspan><tspan x="1568" dy="16">款万元，较同期减少了。</tspan></text></g>
<g id="b5-n17"><text class="t" x="1568" y="5030">6、营业税减免申报工作。</text></g>
<g id="b5-n18"><text class="t" x="1568" y="5086"><tspan x="1568">营业税减免是税收优惠政策在企业的应用，不</tspan><tspan x="1568" dy="16">仅关系到企业的利益，更体现了国家对企业的</tspan><tspan x="1568" dy="16">扶持。企业与税务机关对此项工作都非常重视</tspan><tspan x="1568" dy="16">，税务部门对此项工作的要求非常严格，提供</tspan><tspan x="1568" dy="16">的资料经常是一遍不行二遍，二遍不行三遍，</tspan><tspan x="1568" dy="16">相关文件的申请报告，相关资料的上报改动，</tspan><tspan x="1568" dy="16">经常是重复工作，反复修订。在财务人员的不</tspan><tspan x="1568" dy="16">懈努力下，此项工作得以圆满完成。20xx年</tspan><tspan x="1568" dy="16">地方税务机关为我局减免20xx年营业税万元</tspan><tspan x="1568" dy="16">，为我局预批减免20xx年营业税万元。</tspan></text></g>
<g id="b5-n19"><text class="t" x="1568" y="5285">7、配合地方各税稽查工作。</text></g>
<g id="b5-n20"><text class="t" x="1568" y="5342"><tspan x="1568">自1998年邮电分营以来，地方税务局未对Xx</tspan><tspan x="1568" dy="16">x邮政局进行过税务稽查。20xx年度地方税</tspan><tspan x="1568" dy="16">务机关对我局行了全面检查。涉及税种包括：</tspan><tspan x="1568" dy="16">营业税、城建税、教育费附加、个人所得税、</tspan><tspan x="1568" dy="16">印花税、土地税、车船税等。检查时间长达两</tspan><tspan x="1568" dy="16">个月。通过此次税务稽查，也使财务人员清楚</tspan><tspan x="1568" dy="16">地认识到了任何工作都要认真，仔细，要在国</tspan><tspan x="1568" dy="16">家规定的范围内，寻找有利于企业利益的合理</tspan><tspan x="1568" dy="16">的节税方式，要本着国家利益和企业利益同</tspan><tspan x="1568" dy="16">时兼顾的原则，正确积极的对待国家税收政策</tspan><tspan x="1568" dy="16">。</tspan></text></g>
</g>
</svg>
